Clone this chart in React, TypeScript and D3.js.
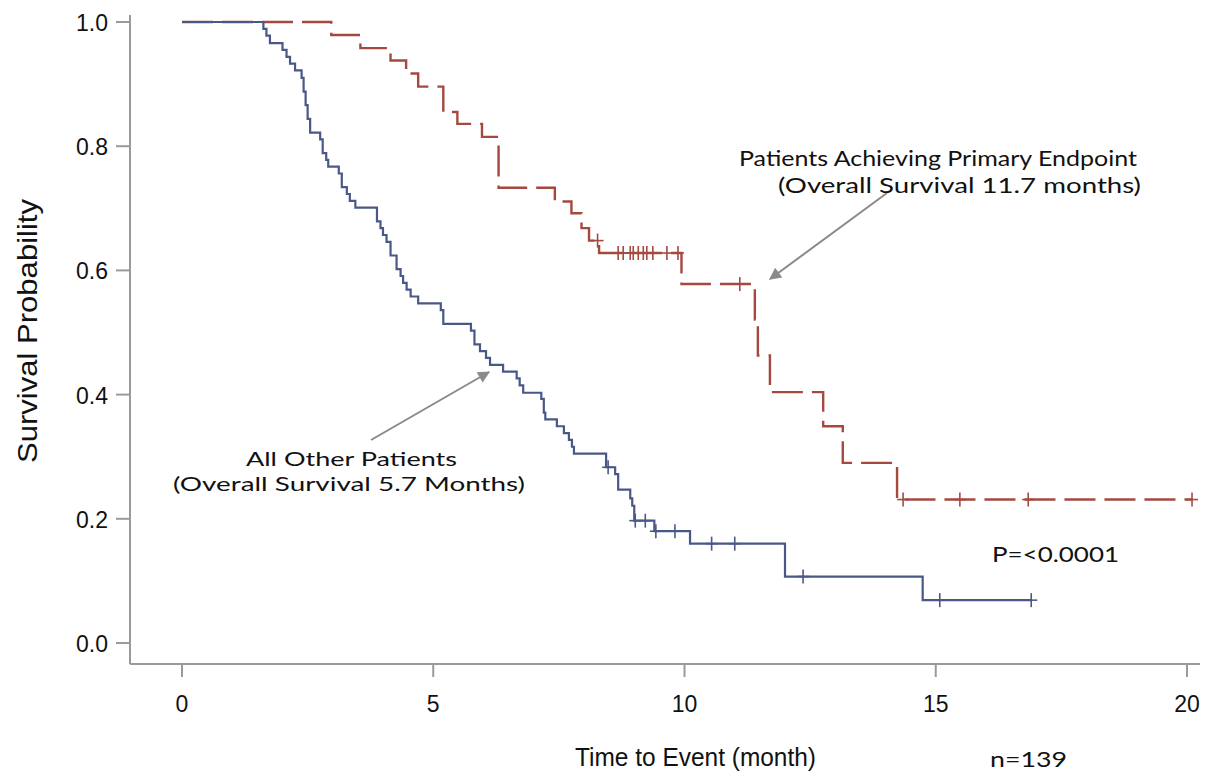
import React from "react";
import * as d3 from "d3";

// ---- Data ----
const xTickValues = [0, 5, 10, 15, 20];
const yTickValues = [0, 0.2, 0.4, 0.6, 0.8, 1.0];

// All Other Patients (solid blue): event times and survival after each drop
const otherTimes = [
  1.62, 1.68, 1.75, 2.0, 2.08, 2.15, 2.25, 2.38, 2.42, 2.46, 2.5, 2.55, 2.75, 2.8, 2.87, 2.91,
  3.12, 3.18, 3.28, 3.34, 3.45, 3.88, 3.95, 4.0, 4.07, 4.15, 4.27, 4.35, 4.4, 4.47, 4.55, 4.7,
  5.15, 5.2, 5.75, 5.82, 5.93, 6.05, 6.13, 6.39, 6.66, 6.72, 6.79, 7.15, 7.2, 7.23, 7.46, 7.6,
  7.7, 7.76, 7.8, 8.44, 8.62, 8.68, 8.92, 8.96, 9.0, 9.4, 10.11, 12.0, 14.74,
];
const otherSurv = [
  0.989, 0.978, 0.966, 0.955, 0.944, 0.933, 0.922, 0.91, 0.888, 0.866, 0.844, 0.822, 0.811, 0.789, 0.778, 0.767,
  0.756, 0.734, 0.723, 0.712, 0.701, 0.679, 0.668, 0.657, 0.646, 0.624, 0.602, 0.591, 0.58, 0.569, 0.558, 0.547,
  0.536, 0.514, 0.503, 0.481, 0.47, 0.459, 0.448, 0.437, 0.426, 0.415, 0.403, 0.393, 0.371, 0.36, 0.349, 0.338,
  0.327, 0.316, 0.305, 0.283, 0.272, 0.247, 0.233, 0.221, 0.197, 0.18, 0.16, 0.107, 0.069,
];
const otherCensor = [8.48, 9.02, 9.22, 9.43, 9.81, 10.54, 11.0, 12.36, 15.08, 16.9];
const otherEnd = 16.9;

// Patients Achieving Primary Endpoint (dashed red)
const primaryTimes = [
  2.97, 3.55, 4.15, 4.46, 4.7, 5.2, 5.48, 5.97, 6.3, 7.42, 7.75, 7.95, 8.1, 8.3, 9.94,
  11.4, 11.46, 11.7, 12.76, 13.15, 14.23,
];
const primarySurv = [
  0.979, 0.958, 0.938, 0.917, 0.896, 0.855, 0.836, 0.815, 0.733, 0.711, 0.692, 0.668, 0.648, 0.628, 0.578,
  0.521, 0.463, 0.404, 0.349, 0.29, 0.231,
];
const primaryCensor = [
  8.27, 8.68, 8.78, 8.92, 8.98, 9.08, 9.18, 9.25, 9.37, 9.65, 9.87, 11.1, 14.35, 15.48, 16.84, 20.1,
];
const primaryEnd = 20.1;

const BLUE = "#4a5888";
const RED = "#a5493f";
const GRAY = "#9a9a9a";
const ARROW = "#8a8a8a";

function stepPoints(times: number[], surv: number[], end: number): [number, number][] {
  const pts: [number, number][] = [[0, 1]];
  times.forEach((t, i) => pts.push([t, surv[i]]));
  pts.push([end, surv[surv.length - 1]]);
  return pts;
}

function survAt(times: number[], surv: number[], t: number): number {
  let s = 1;
  for (let i = 0; i < times.length; i++) {
    if (times[i] <= t) s = surv[i];
  }
  return s;
}

export default function App() {
  const W = 1209;
  const H = 774;
  const x = d3.scaleLinear().domain([0, 20]).range([182, 1187]);
  const y = d3.scaleLinear().domain([0, 1]).range([643, 22]);
  const axisLeft = 130;
  const axisBottom = 664;

  const line = d3
    .line<[number, number]>()
    .x((d) => x(d[0]))
    .y((d) => y(d[1]))
    .curve(d3.curveStepAfter);

  const otherPath = line(stepPoints(otherTimes, otherSurv, otherEnd)) || "";
  const primaryPath = line(stepPoints(primaryTimes, primarySurv, primaryEnd)) || "";

  const fmt = d3.format(".1f");
  const tickFont = "'Liberation Sans', Arial, sans-serif";
  const noteFont = "Lato, 'Open Sans', sans-serif";

  const censorMark = (t: number, s: number, color: string, key: string) => (
    <g key={key} stroke={color} strokeWidth={1.6}>
      <line x1={x(t)} x2={x(t)} y1={y(s) - 7} y2={y(s) + 7} />
      <line x1={x(t) - 6} x2={x(t) + 6} y1={y(s)} y2={y(s)} />
    </g>
  );

  return (
    <svg
      width={W}
      height={H}
      style={{ position: "absolute", left: 0, top: 0, background: "#fff" }}
    >
      <defs>
        <marker
          id="arrowHead"
          viewBox="0 0 10 10"
          refX="9"
          refY="5"
          markerWidth="7"
          markerHeight="6"
          markerUnits="strokeWidth"
          orient="auto"
        >
          <path d="M0,0 L10,5 L0,10 z" fill={ARROW} />
        </marker>
      </defs>

      {/* axes */}
      <line x1={axisLeft} x2={axisLeft} y1={15} y2={axisBottom} stroke={GRAY} strokeWidth={2} />
      <line x1={axisLeft} x2={1200} y1={axisBottom} y2={axisBottom} stroke={GRAY} strokeWidth={2} />
      {yTickValues.map((v) => (
        <g key={"y" + v}>
          <line x1={116} x2={axisLeft} y1={y(v)} y2={y(v)} stroke={GRAY} strokeWidth={2} />
          <text
            x={108}
            y={y(v) + 9}
            textAnchor="end"
            fontFamily={tickFont}
            fontSize={23}
            fill="#111"
          >
            {fmt(v)}
          </text>
        </g>
      ))}
      {xTickValues.map((v) => (
        <g key={"x" + v}>
          <line x1={x(v)} x2={x(v)} y1={axisBottom} y2={677} stroke={GRAY} strokeWidth={2} />
          <text
            x={x(v)}
            y={712}
            textAnchor="middle"
            fontFamily={tickFont}
            fontSize={23}
            fill="#111"
          >
            {v}
          </text>
        </g>
      ))}

      {/* axis titles */}
      <text
        x={575}
        y={766}
        fontFamily={tickFont}
        fontSize={26}
        textLength={241}
        lengthAdjust="spacingAndGlyphs"
        fill="#111"
      >
        Time to Event (month)
      </text>
      <text
        transform="translate(37,331) rotate(-90)"
        textAnchor="middle"
        fontFamily={tickFont}
        fontSize={28}
        textLength={264}
        lengthAdjust="spacingAndGlyphs"
        fill="#111"
      >
        Survival Probability
      </text>

      {/* curves */}
      <path d={primaryPath} fill="none" stroke={RED} strokeWidth={2.4} strokeDasharray="31 9" />
      <path d={otherPath} fill="none" stroke={BLUE} strokeWidth={2.2} />

      {primaryCensor.map((t, i) =>
        censorMark(t, survAt(primaryTimes, primarySurv, t), RED, "pc" + i)
      )}
      {otherCensor.map((t, i) => censorMark(t, survAt(otherTimes, otherSurv, t), BLUE, "oc" + i))}

      {/* annotations */}
      <line
        x1={371}
        y1={440}
        x2={489}
        y2={372}
        stroke={ARROW}
        strokeWidth={2}
        markerEnd="url(#arrowHead)"
      />
      <line
        x1={887}
        y1={193}
        x2={770}
        y2={279}
        stroke={ARROW}
        strokeWidth={2}
        markerEnd="url(#arrowHead)"
      />

      <text x={739} y={166} fontFamily={noteFont} fontSize={21} textLength={398} lengthAdjust="spacingAndGlyphs" fill="#111">
        Patients Achieving Primary Endpoint
      </text>
      <text x={778} y={193} fontFamily={noteFont} fontSize={21} textLength={363} lengthAdjust="spacingAndGlyphs" fill="#111">
        (Overall Survival 11.7 months)
      </text>
      <text x={246} y={466} fontFamily={noteFont} fontSize={20} textLength={211} lengthAdjust="spacingAndGlyphs" fill="#111">
        All Other Patients
      </text>
      <text x={173} y={491} fontFamily={noteFont} fontSize={20} textLength={352} lengthAdjust="spacingAndGlyphs" fill="#111">
        (Overall Survival 5.7 Months)
      </text>
      <text x={992} y={562} fontFamily={noteFont} fontSize={21} textLength={127} lengthAdjust="spacingAndGlyphs" fill="#111">
        P=&lt;0.0001
      </text>
      <text x={990} y={767} fontFamily={noteFont} fontSize={21} textLength={77} lengthAdjust="spacingAndGlyphs" fill="#111">
        n=139
      </text>
    </svg>
  );
}
